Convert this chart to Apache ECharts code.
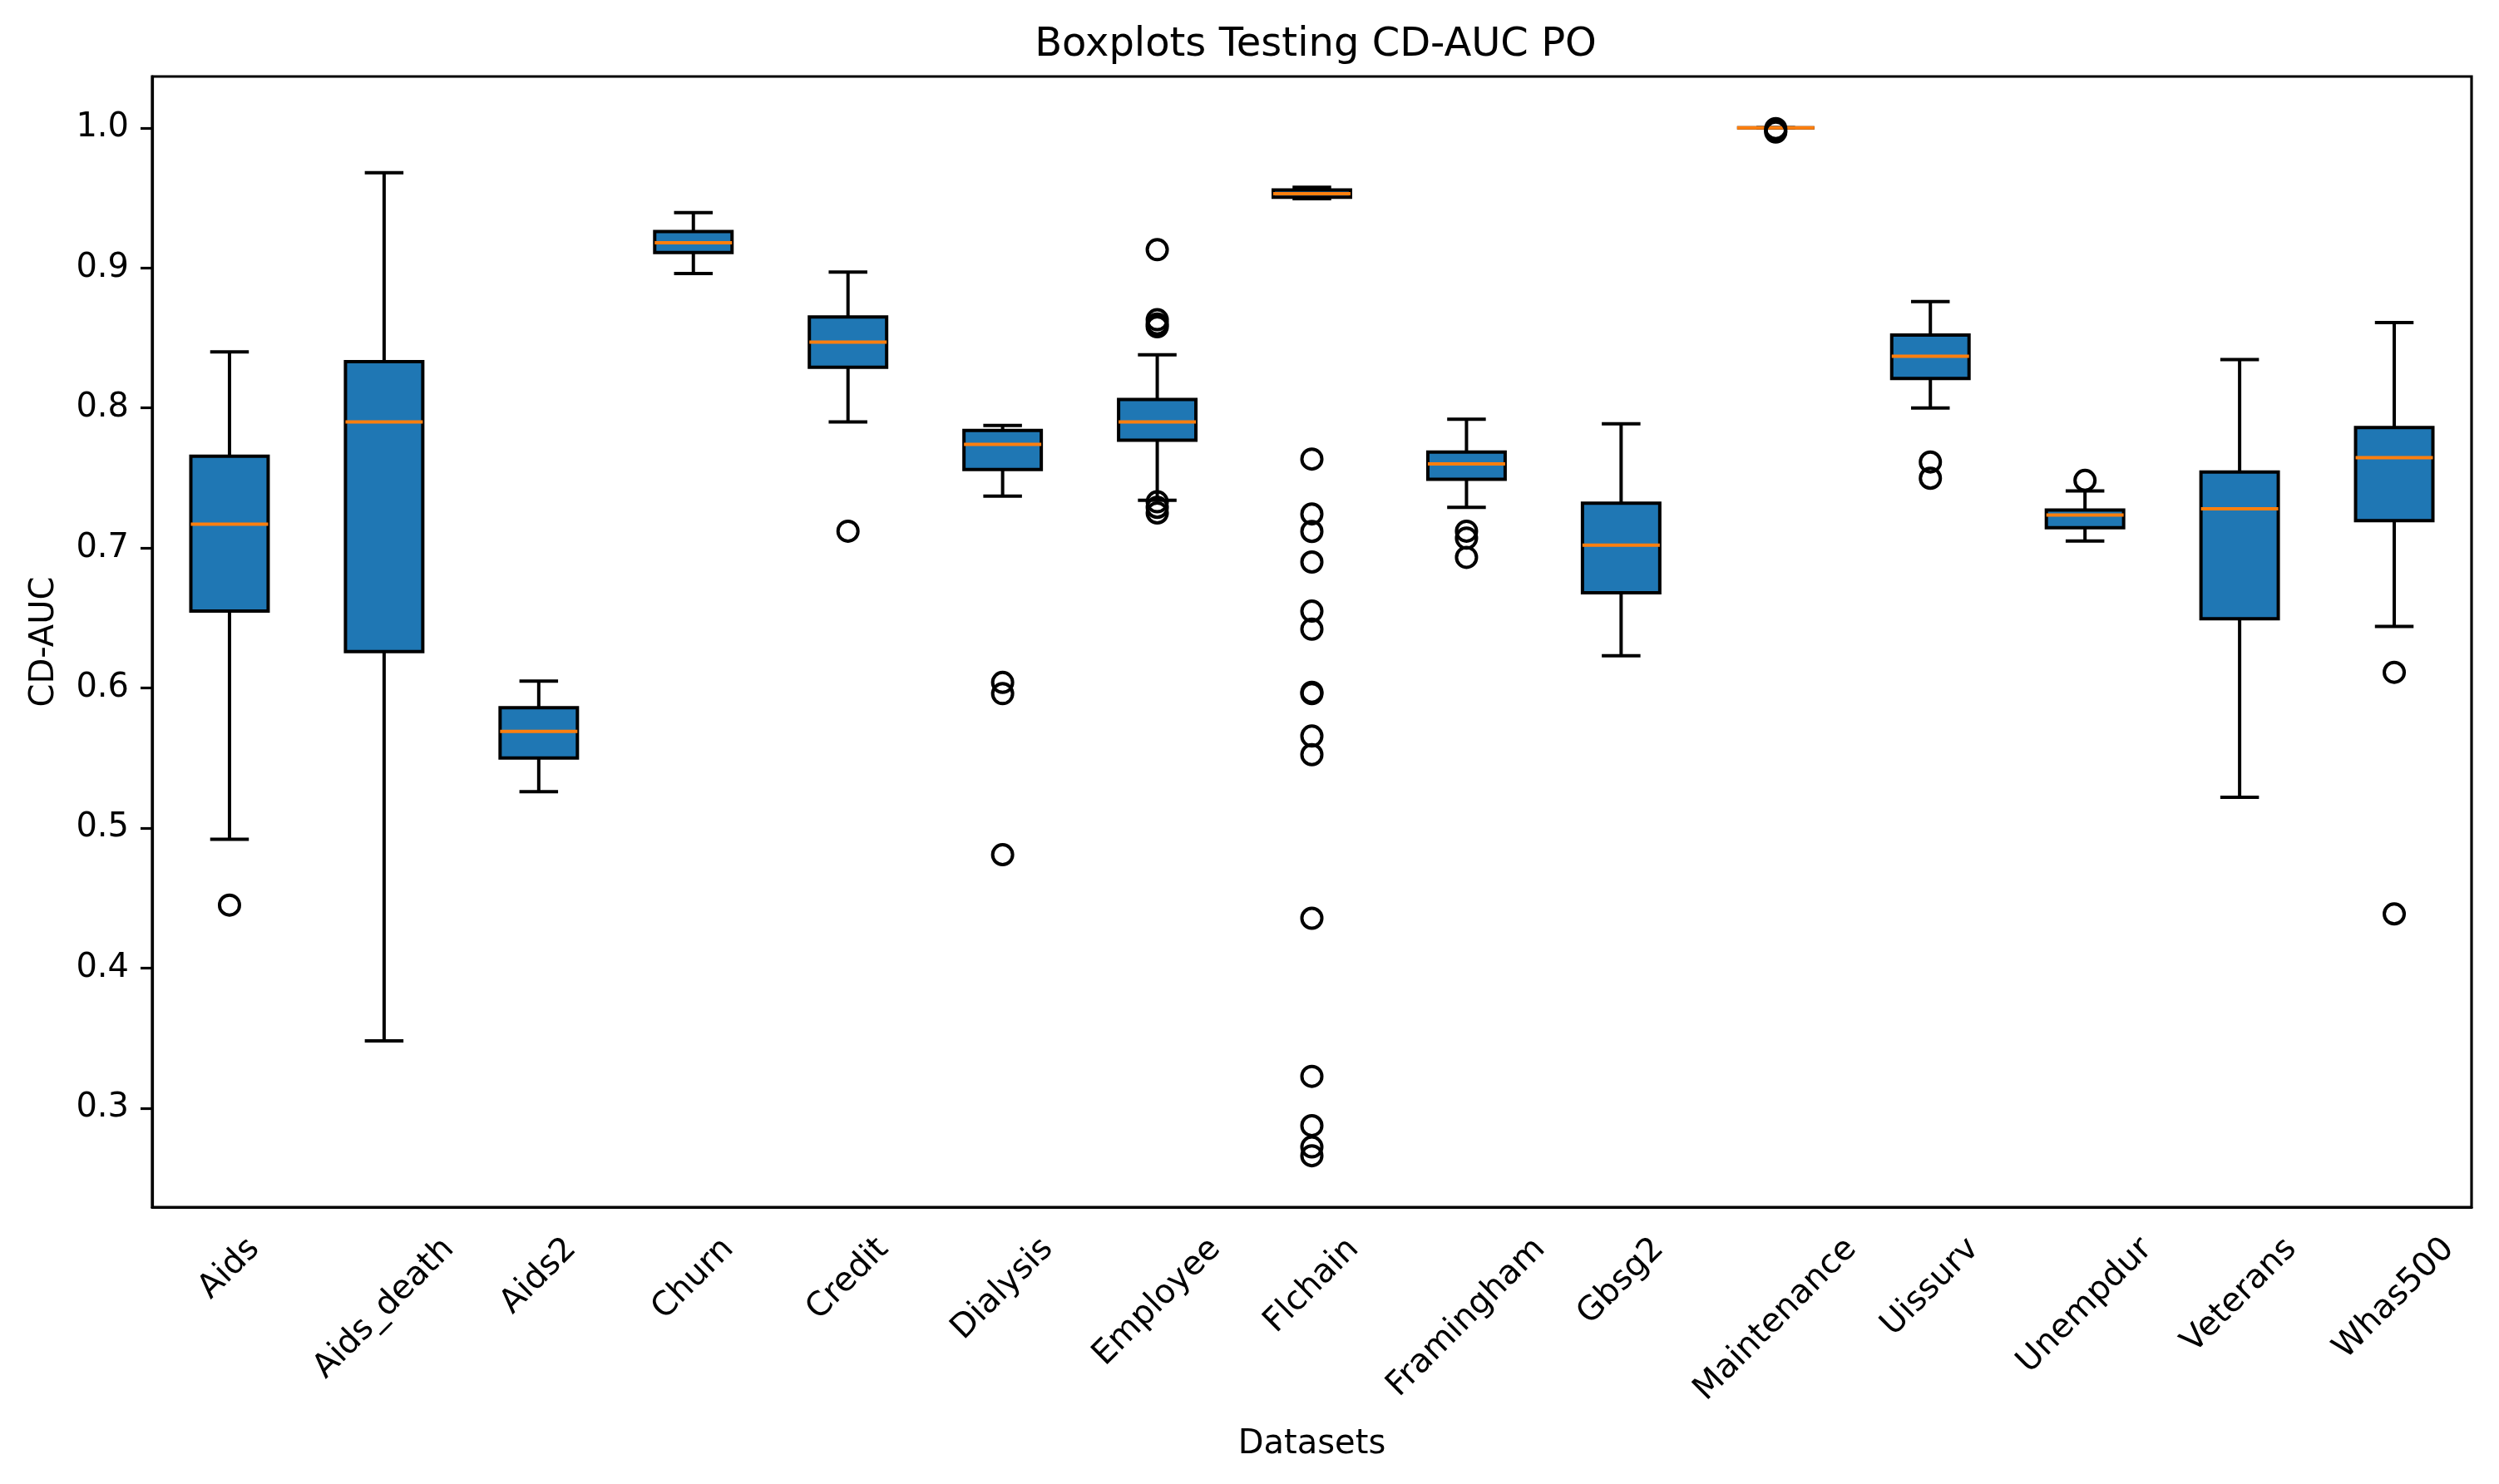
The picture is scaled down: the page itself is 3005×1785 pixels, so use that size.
<!DOCTYPE html>
<html>
<head>
<meta charset="utf-8">
<script src="https://cdn.jsdelivr.net/npm/echarts@6/dist/echarts.min.js"></script>
<style>html,body{margin:0;padding:0;background:#fff}#c{width:3005px;height:1785px}</style>
</head>
<body>
<div id="c"></div>
<script>
const categories = ['Aids','Aids_death','Aids2','Churn','Credit','Dialysis','Employee','Flchain','Framingham','Gbsg2','Maintenance','Uissurv','Unempdur','Veterans','Whas500'];
const whiskerLow  = [0.492, 0.348, 0.526, 0.896, 0.790, 0.737, 0.734, 0.9495, 0.729, 0.623, 1.000, 0.800, 0.705, 0.522, 0.644];
const q1          = [0.655, 0.626, 0.550, 0.911, 0.829, 0.756, 0.777, 0.9505, 0.749, 0.668, 1.000, 0.821, 0.7145, 0.6495, 0.7196];
const median      = [0.717, 0.790, 0.569, 0.918, 0.847, 0.774, 0.790, 0.953, 0.760, 0.702, 1.000, 0.837, 0.7236, 0.728, 0.7645];
const q3          = [0.7655, 0.833, 0.586, 0.926, 0.865, 0.784, 0.806, 0.9556, 0.7685, 0.732, 1.000, 0.852, 0.7271, 0.7543, 0.786];
const whiskerHigh = [0.840, 0.968, 0.605, 0.9395, 0.897, 0.7875, 0.838, 0.9576, 0.792, 0.7887, 1.000, 0.876, 0.7407, 0.8345, 0.861];
const outliers = [
  [0.445],
  [],
  [],
  [],
  [0.712],
  [0.604, 0.596, 0.481],
  [0.913, 0.863, 0.860, 0.858, 0.733, 0.729, 0.725],
  [0.7635, 0.7243, 0.7118, 0.690, 0.6549, 0.642, 0.597, 0.596, 0.5657, 0.5524, 0.4356, 0.3227, 0.2875, 0.2723, 0.266],
  [0.712, 0.707, 0.6933],
  [],
  [0.9995, 0.998, 0.997],
  [0.7614, 0.7498],
  [0.7483],
  [],
  [0.6112, 0.4387]
];
const yTicks = [0.3, 0.4, 0.5, 0.6, 0.7, 0.8, 0.9, 1.0];
const titleText = 'Boxplots Testing CD-AUC PO';
const xName = 'Datasets';
const yName = 'CD-AUC';

const FONT = 'DejaVu Sans';
const allVals = [].concat(whiskerLow, whiskerHigh, ...outliers);
const dMin = Math.min(...allVals), dMax = Math.max(...allVals);
const span = dMax - dMin;
const yMin = dMin - 0.05 * span, yMax = dMax + 0.05 * span;

const mctx = document.createElement('canvas').getContext('2d');
mctx.font = '40px "DejaVu Sans"';
const labelWidths = categories.map(c => mctx.measureText(c).width);

const boxData = categories.map((c, i) => [i, whiskerLow[i], q1[i], median[i], q3[i], whiskerHigh[i]]);
const outlierPoints = [];
outliers.forEach((arr, i) => arr.forEach(v => outlierPoints.push([i, v])));
const labelData = categories.map((c, i) => [i, yMin]);

const chart = echarts.init(document.getElementById('c'), null, { renderer: 'canvas' });
chart.setOption({
  animation: false,
  backgroundColor: '#fff',
  title: {
    text: titleText, left: 1577, top: 26, textAlign: 'center',
    textStyle: { fontSize: 48, fontWeight: 'normal', color: '#000', fontFamily: FONT }
  },
  grid: { left: 183, right: 33, top: 92, bottom: 333, containLabel: false, outerBoundsMode: 'none', show: true, borderColor: '#000', borderWidth: 3.2, backgroundColor: 'transparent' },
  xAxis: {
    type: 'category', data: categories, boundaryGap: true,
    axisLine: { lineStyle: { color: '#000', width: 3.2 } },
    axisTick: { alignWithLabel: true, interval: 0, length: 14, lineStyle: { color: '#000', width: 3.2 } },
    axisLabel: { show: false },
    splitLine: { show: false },
    name: xName, nameLocation: 'middle', nameGap: 266,
    nameTextStyle: { fontSize: 40, color: '#000', fontFamily: FONT }
  },
  yAxis: {
    type: 'value', min: yMin, max: yMax,
    axisLine: { show: true, lineStyle: { color: '#000', width: 3.2 } },
    axisTick: { show: true, length: 14, customValues: yTicks, lineStyle: { color: '#000', width: 3.2 } },
    axisLabel: { customValues: yTicks, formatter: v => v.toFixed(1), margin: 28, color: '#000', fontSize: 40, fontFamily: FONT },
    splitLine: { show: false },
    name: yName, nameLocation: 'middle', nameGap: 109, nameRotate: 90,
    nameTextStyle: { fontSize: 40, color: '#000', fontFamily: FONT }
  },
  series: [
    {
      type: 'custom',
      data: boxData,
      encode: { x: 0, y: [1, 2, 3, 4, 5] },
      silent: true,
      z: 2,
      renderItem: function (params, api) {
        const i = api.value(0);
        const cx = api.coord([i, api.value(3)])[0];
        const bw = api.size([1, 0])[0] * 0.5;
        const yy = k => api.coord([i, api.value(k)])[1];
        const yLo = yy(1), yQ1 = yy(2), yMed = yy(3), yQ3 = yy(4), yHi = yy(5);
        const lw = 4;
        const line = (x1, y1, x2, y2, color) => ({ type: 'line', shape: { x1, y1, x2, y2 }, style: { stroke: color, lineWidth: lw } });
        return {
          type: 'group',
          children: [
            line(cx, yQ3, cx, yHi, '#000'),
            line(cx, yQ1, cx, yLo, '#000'),
            line(cx - bw / 4, yHi, cx + bw / 4, yHi, '#000'),
            line(cx - bw / 4, yLo, cx + bw / 4, yLo, '#000'),
            { type: 'rect', shape: { x: cx - bw / 2, y: yQ3, width: bw, height: Math.max(yQ1 - yQ3, 0) }, style: { fill: '#1f77b4', stroke: '#000', lineWidth: lw } },
            line(cx - bw / 2, yMed, cx + bw / 2, yMed, '#ff7f0e')
          ]
        };
      }
    },
    {
      type: 'scatter',
      data: outlierPoints,
      symbol: 'circle',
      symbolSize: 24,
      silent: true,
      z: 3,
      itemStyle: { color: 'rgba(0,0,0,0)', borderColor: '#000', borderWidth: 4, opacity: 1 }
    },
    {
      // rotated category labels, centred under each tick like matplotlib (rotation=45, ha='center')
      type: 'custom',
      data: labelData,
      encode: { x: 0, y: 1 },
      silent: true,
      clip: false,
      z: 5,
      renderItem: function (params, api) {
        const i = api.value(0);
        const p = api.coord([i, api.value(1)]);
        const L = labelWidths[i];
        const h = 46;
        const ext = Math.SQRT1_2 * (L + h);
        const top = p[1] + 28;
        return {
          type: 'text',
          x: p[0],
          y: top + ext / 2,
          rotation: Math.PI / 4,
          style: {
            text: categories[i],
            align: 'center',
            verticalAlign: 'middle',
            fill: '#000',
            font: '40px "DejaVu Sans"'
          }
        };
      }
    }
  ]
});
</script>
</body>
</html>
